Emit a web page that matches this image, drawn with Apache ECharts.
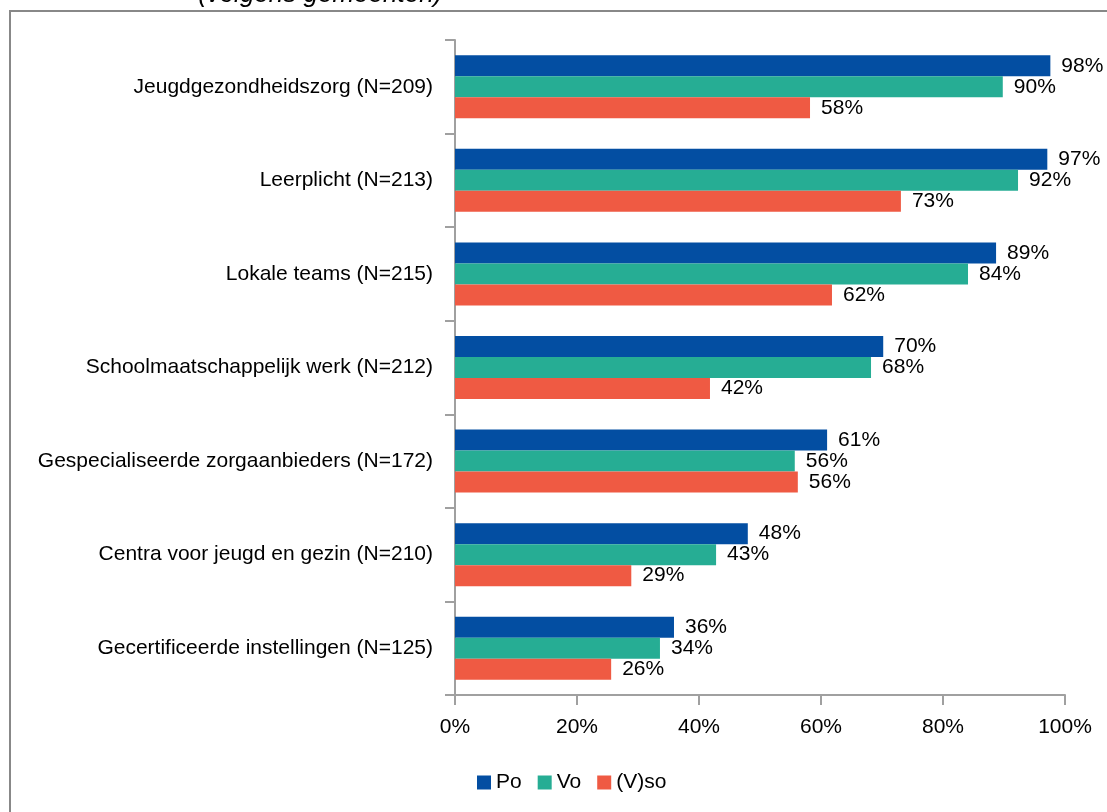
<!DOCTYPE html>
<html>
<head>
<meta charset="utf-8">
<script src="https://cdn.jsdelivr.net/npm/echarts@6/dist/echarts.min.js"></script>
<style>
  html, body { margin: 0; padding: 0; background: #fff; }
  #chart { width: 1107px; height: 812px; }
</style>
</head>
<body>
<div id="chart"></div>
<script>
// categories, top to bottom as in the picture
const categories = [
    'Jeugdgezondheidszorg (N=209)',
    'Leerplicht (N=213)',
    'Lokale teams (N=215)',
    'Schoolmaatschappelijk werk (N=212)',
    'Gespecialiseerde zorgaanbieders (N=172)',
    'Centra voor jeugd en gezin (N=210)',
    'Gecertificeerde instellingen (N=125)'
];
const seriesNames = ['Po', 'Vo', '(V)so'];
const po = [97.6, 97.1, 88.7, 70.2, 61.0, 48.0, 35.9];
const vo = [89.8, 92.3, 84.1, 68.2, 55.7, 42.8, 33.6];
const vso = [58.2, 73.1, 61.8, 41.8, 56.2, 28.9, 25.6];
const xTicks = [0, 20, 40, 60, 80, 100];

const colors = ['#034ea2', '#26ad94', '#ef5a43'];
const font = 'Liberation Sans';

const chart = echarts.init(document.getElementById('chart'));

function mkSeries(name, data, i) {
    return {
        name: name,
        type: 'bar',
        data: data,
        barWidth: 21,
        barGap: '0%',
        itemStyle: { color: colors[i] },
        label: {
            show: true,
            position: 'right',
            distance: 11,
            color: '#000',
            fontFamily: font,
            fontSize: 21,
            formatter: p => Math.round(p.value) + '%'
        }
    };
}

let option = {
    animation: false,
    color: colors,
    grid: {
        left: 455,
        right: 42,
        top: 40,
        bottom: 117
    },
    legend: {
        bottom: 14,
        left: 472,
        itemWidth: 14,
        itemHeight: 14,
        itemGap: 16,
        icon: 'rect',
        textStyle: { fontFamily: font, fontSize: 21, color: '#000' },
        data: seriesNames
    },
    xAxis: {
        type: 'value',
        min: 0,
        max: 100,
        interval: 20,
        axisLine: { show: true, lineStyle: { color: '#a0a0a0', width: 2 } },
        axisTick: { show: true, length: 10, lineStyle: { color: '#a0a0a0', width: 2 } },
        splitLine: { show: false },
        axisLabel: {
            margin: 22,
            color: '#000',
            fontFamily: font,
            fontSize: 21,
            formatter: v => xTicks.includes(v) ? v + '%' : ''
        }
    },
    yAxis: {
        type: 'category',
        inverse: true,
        data: categories,
        axisLine: { show: true, lineStyle: { color: '#a0a0a0', width: 2 } },
        axisTick: { show: true, length: 10, lineStyle: { color: '#a0a0a0', width: 2 } },
        axisLabel: {
            margin: 22,
            color: '#000',
            fontFamily: font,
            fontSize: 21
        }
    },
    graphic: [
        {
            type: 'rect',
            shape: { x: 10, y: 11, width: 1200, height: 900 },
            style: { fill: 'none', stroke: '#888', lineWidth: 2 },
            z: -1
        },
        {
            type: 'text',
            left: 198,
            top: -18,
            style: {
                text: '(volgens gemeenten)',
                font: 'italic 26px "' + font + '"',
                fill: '#000'
            }
        }
    ],
    series: [
        mkSeries(seriesNames[0], po, 0),
        mkSeries(seriesNames[1], vo, 1),
        mkSeries(seriesNames[2], vso, 2)
    ]
};
chart.setOption(option);
window.onresize = () => chart.resize();
</script>
</body>
</html>
